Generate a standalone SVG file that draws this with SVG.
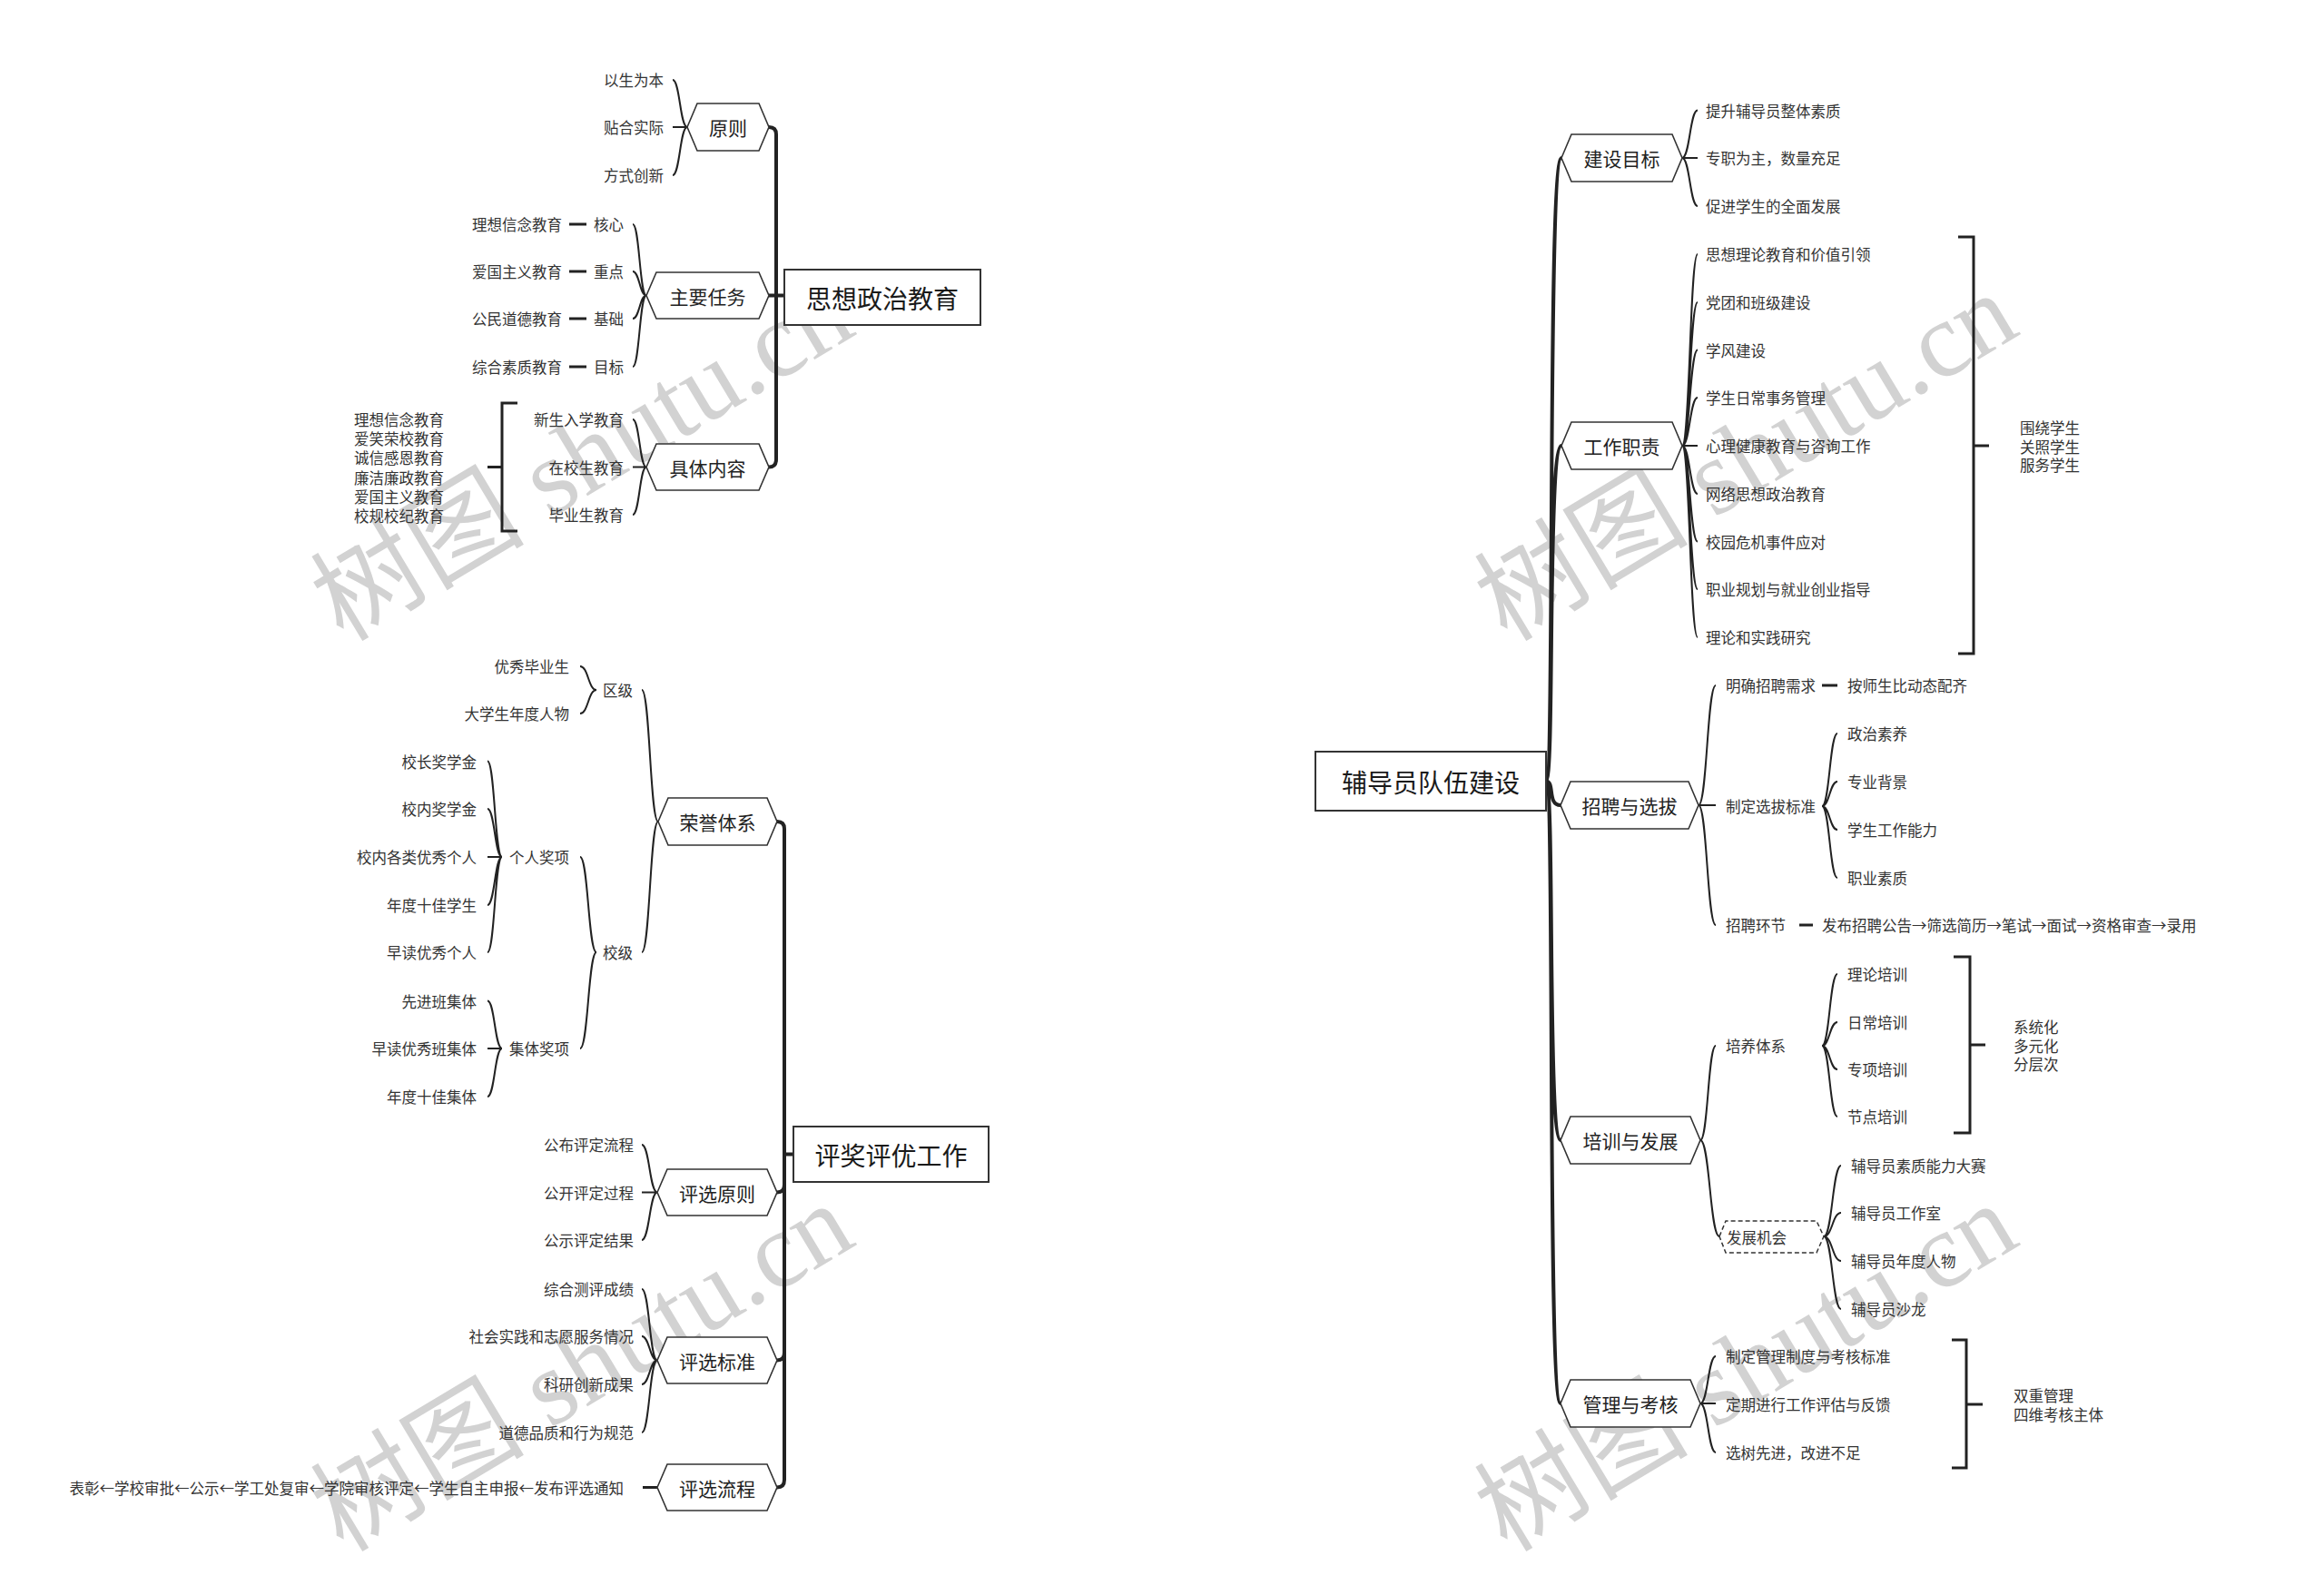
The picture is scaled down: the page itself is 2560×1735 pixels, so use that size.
<svg xmlns="http://www.w3.org/2000/svg" width="2560" height="1735" viewBox="0 0 2560 1735">
<style>
.t{font-family:"Noto Sans CJK SC","Liberation Sans",sans-serif;font-size:16.5px;fill:#333;dominant-baseline:central}
.e{text-anchor:end}
.h{font-size:21px;text-anchor:middle;fill:#222}
.r{font-size:28px;text-anchor:middle;fill:#1a1a1a}
.hex{fill:#fff;stroke:#333;stroke-width:1.6}
.dhex{fill:#fff;stroke:#333;stroke-width:1.5;stroke-dasharray:5 3}
.box{fill:#fff;stroke:#333;stroke-width:2}
.c{fill:none;stroke:#222;stroke-width:2}
.k{fill:none;stroke:#222;stroke-width:4;stroke-linecap:round}
.b{fill:none;stroke:#222;stroke-width:3}
.wm{font-family:"Liberation Serif","Noto Sans CJK SC",serif;font-size:118px;fill:#d2d2d2}
</style>
<rect width="2560" height="1735" fill="#fff"/>
<g id="watermark">
<text class="wm" x="378" y="708" transform="rotate(-31 378 708)">树图 shutu.cn</text>
<text class="wm" x="1660" y="708" transform="rotate(-31 1660 708)">树图 shutu.cn</text>
<text class="wm" x="378" y="1711" transform="rotate(-31 378 1711)">树图 shutu.cn</text>
<text class="wm" x="1660" y="1711" transform="rotate(-31 1660 1711)">树图 shutu.cn</text>
</g>
<g id="connectors">
<path class="k" d="M847 140 Q855 140 855 148 L855 506 Q855 514.5 847 514.5 M847 325.5 L864 325.5"/>
<path class="c" d="M757 140 C749 140 749 88 741 88 M757 140 L741 140 M757 140 C749 140 749 193 741 193"/>
<path class="c" d="M712 325.5 C704.5 325.5 704.5 247 697 247 M712 325.5 C704.5 325.5 704.5 299 697 299 M712 325.5 C704.5 325.5 704.5 351 697 351 M712 325.5 C704.5 325.5 704.5 404 697 404"/>
<path class="b" d="M627 247 L646 247 M627 299 L646 299 M627 351 L646 351 M627 404 L646 404"/>
<path class="c" d="M712 514.5 C704.5 514.5 704.5 462 697 462 M712 514.5 L697 514.5 M712 514.5 C704.5 514.5 704.5 567 697 567"/>
<path class="b" d="M570 444 L553 444 L553 585 L570 585 M537 514.5 L553 514.5"/>
<path class="k" d="M856 905 Q864 905 864 913 L864 1630 Q864 1638.5 856 1638.5 M856 1313.5 Q864 1313.5 864 1305 M856 1498.5 Q864 1498.5 864 1490 M864 1271.5 L874 1271.5"/>
<path class="c" d="M725 905 C716 905 716 760 707 760 M725 905 C716 905 716 1049 707 1049"/>
<path class="c" d="M657 760 C648 760 648 734 639 734 M657 760 C648 760 648 786 639 786"/>
<path class="c" d="M657 1049 C648 1049 648 944 639 944 M657 1049 C648 1049 648 1155 639 1155"/>
<path class="c" d="M553 944 C545 944 545 838.5 537 838.5 M553 944 C545 944 545 891 537 891 M553 944 L537 944 M553 944 C545 944 545 997 537 997 M553 944 C545 944 545 1049 537 1049"/>
<path class="c" d="M553 1155 C545 1155 545 1102.5 537 1102.5 M553 1155 L537 1155 M553 1155 C545 1155 545 1208 537 1208"/>
<path class="c" d="M724 1313.5 C715.5 1313.5 715.5 1261 707 1261 M724 1313.5 L707 1313.5 M724 1313.5 C715.5 1313.5 715.5 1366 707 1366"/>
<path class="c" d="M724 1498.5 C715.5 1498.5 715.5 1420 707 1420 M724 1498.5 C715.5 1498.5 715.5 1472 707 1472 M724 1498.5 C715.5 1498.5 715.5 1525 707 1525 M724 1498.5 C715.5 1498.5 715.5 1578 707 1578"/>
<path class="b" d="M708 1638.5 L724 1638.5"/>
<path class="k" d="M1703 860.5 C1713 860.5 1704 174 1720 174 M1703 860.5 C1713 860.5 1704 491 1720 491 M1703 860.5 C1713 860.5 1704 887 1719 887 M1703 860.5 C1713 860.5 1704 1256 1719 1256 M1703 860.5 C1713 860.5 1704 1546 1719 1546"/>
<path class="c" d="M1853 174 C1861.5 174 1861.5 121.5 1870 121.5 M1853 174 L1870 174 M1853 174 C1861.5 174 1861.5 227 1870 227"/>
<path class="c" d="M1853 491 C1861.5 491 1861.5 280 1870 280 M1853 491 C1861.5 491 1861.5 333 1870 333 M1853 491 C1861.5 491 1861.5 385.5 1870 385.5 M1853 491 C1861.5 491 1861.5 438 1870 438 M1853 491 L1870 491 M1853 491 C1861.5 491 1861.5 544 1870 544 M1853 491 C1861.5 491 1861.5 596.5 1870 596.5 M1853 491 C1861.5 491 1861.5 649 1870 649 M1853 491 C1861.5 491 1861.5 702 1870 702"/>
<path class="b" d="M2157 261 L2174 261 L2174 720 L2157 720 M2174 491 L2191 491"/>
<path class="c" d="M1871 887 C1880.5 887 1880.5 755 1890 755 M1871 887 L1890 887 M1871 887 C1880.5 887 1880.5 1019 1890 1019"/>
<path class="b" d="M2007 755 L2024 755 M1982 1019 L1997 1019"/>
<path class="c" d="M2007 888 C2015.5 888 2015.5 808 2024 808 M2007 888 C2015.5 888 2015.5 861 2024 861 M2007 888 C2015.5 888 2015.5 914 2024 914 M2007 888 C2015.5 888 2015.5 967 2024 967"/>
<path class="c" d="M1873 1256 C1881.5 1256 1881.5 1152 1890 1152 M1873 1256 C1883.5 1256 1883.5 1362 1894 1362"/>
<path class="c" d="M2007 1152 C2015.5 1152 2015.5 1073 2024 1073 M2007 1152 C2015.5 1152 2015.5 1126 2024 1126 M2007 1152 C2015.5 1152 2015.5 1178 2024 1178 M2007 1152 C2015.5 1152 2015.5 1230 2024 1230"/>
<path class="b" d="M2152 1054 L2170 1054 L2170 1248 L2152 1248 M2170 1151 L2187 1151"/>
<path class="c" d="M2009 1362 C2018.5 1362 2018.5 1284 2028 1284 M2009 1362 C2018.5 1362 2018.5 1336 2028 1336 M2009 1362 C2018.5 1362 2018.5 1389 2028 1389 M2009 1362 C2018.5 1362 2018.5 1442 2028 1442"/>
<path class="c" d="M1873 1546 C1881.5 1546 1881.5 1494 1890 1494 M1873 1546 L1890 1546 M1873 1546 C1881.5 1546 1881.5 1600 1890 1600"/>
<path class="b" d="M2150 1476 L2166 1476 L2166 1617 L2150 1617 M2166 1547 L2184 1547"/>
</g>

<g id="n-sxzz"><rect class="box" x="864" y="297" width="216" height="61"/><text class="t r" x="972" y="327.5">思想政治教育</text></g>
<g id="n-yuanze"><polygon class="hex" points="757,140 768,114 836,114 847,140 836,166 768,166"/><text class="t h" x="802" y="140">原则</text></g>
<g id="n-yszb"><text class="t e" x="731" y="88">以生为本</text></g>
<g id="n-thsj"><text class="t e" x="731" y="140">贴合实际</text></g>
<g id="n-fscx"><text class="t e" x="731" y="193">方式创新</text></g>
<g id="n-zyrw"><polygon class="hex" points="712,325.5 723,300 836,300 847,325.5 836,351 723,351"/><text class="t h" x="779.5" y="325.5">主要任务</text></g>
<g id="n-hx"><text class="t e" x="619" y="247">理想信念教育</text><text class="t e" x="687" y="247">核心</text></g>
<g id="n-zd"><text class="t e" x="619" y="299">爱国主义教育</text><text class="t e" x="687" y="299">重点</text></g>
<g id="n-jc"><text class="t e" x="619" y="351">公民道德教育</text><text class="t e" x="687" y="351">基础</text></g>
<g id="n-mb"><text class="t e" x="619" y="404">综合素质教育</text><text class="t e" x="687" y="404">目标</text></g>
<g id="n-jtnr"><polygon class="hex" points="712,514.5 723,489 836,489 847,514.5 836,540 723,540"/><text class="t h" x="779.5" y="514.5">具体内容</text></g>
<g id="n-xsrx"><text class="t e" x="687" y="462">新生入学教育</text></g>
<g id="n-zxs"><text class="t e" x="687" y="514.5">在校生教育</text></g>
<g id="n-bys"><text class="t e" x="687" y="567">毕业生教育</text></g>
<g id="n-jtnr-sum"><text class="t e" x="489" y="462">理想信念教育</text><text class="t e" x="489" y="483.2">爱笑荣校教育</text><text class="t e" x="489" y="504.4">诚信感恩教育</text><text class="t e" x="489" y="525.6">廉洁廉政教育</text><text class="t e" x="489" y="546.8">爱国主义教育</text><text class="t e" x="489" y="568">校规校纪教育</text></g>

<g id="n-jpgz"><rect class="box" x="874" y="1241" width="215" height="61"/><text class="t r" x="981.5" y="1271.5">评奖评优工作</text></g>
<g id="n-rytx"><polygon class="hex" points="725,905 736,879 845,879 856,905 845,931 736,931"/><text class="t h" x="790.5" y="905">荣誉体系</text></g>
<g id="n-qj"><text class="t e" x="697" y="760">区级</text></g>
<g id="n-yxbys"><text class="t e" x="627" y="734">优秀毕业生</text></g>
<g id="n-dxsnd"><text class="t e" x="627" y="786">大学生年度人物</text></g>
<g id="n-xj"><text class="t e" x="697" y="1049">校级</text></g>
<g id="n-grjx"><text class="t e" x="627" y="944">个人奖项</text></g>
<g id="n-xzjxj"><text class="t e" x="525" y="838.5">校长奖学金</text></g>
<g id="n-xnjxj"><text class="t e" x="525" y="891">校内奖学金</text></g>
<g id="n-xngl"><text class="t e" x="525" y="944">校内各类优秀个人</text></g>
<g id="n-ndsjxs"><text class="t e" x="525" y="997">年度十佳学生</text></g>
<g id="n-zdyxgr"><text class="t e" x="525" y="1049">早读优秀个人</text></g>
<g id="n-jtjx"><text class="t e" x="627" y="1155">集体奖项</text></g>
<g id="n-xjbjt"><text class="t e" x="525" y="1102.5">先进班集体</text></g>
<g id="n-zdyxbjt"><text class="t e" x="525" y="1155">早读优秀班集体</text></g>
<g id="n-ndsjjt"><text class="t e" x="525" y="1208">年度十佳集体</text></g>
<g id="n-pxyz"><polygon class="hex" points="724,1313.5 735,1288 845,1288 856,1313.5 845,1339 735,1339"/><text class="t h" x="790" y="1313.5">评选原则</text></g>
<g id="n-gbpd"><text class="t e" x="698" y="1261">公布评定流程</text></g>
<g id="n-gkpd"><text class="t e" x="698" y="1313.5">公开评定过程</text></g>
<g id="n-gspd"><text class="t e" x="698" y="1366">公示评定结果</text></g>
<g id="n-pxbz"><polygon class="hex" points="724,1498.5 735,1473 845,1473 856,1498.5 845,1524 735,1524"/><text class="t h" x="790" y="1498.5">评选标准</text></g>
<g id="n-zhcp"><text class="t e" x="698" y="1420">综合测评成绩</text></g>
<g id="n-shsj"><text class="t e" x="698" y="1472">社会实践和志愿服务情况</text></g>
<g id="n-kycx"><text class="t e" x="698" y="1525">科研创新成果</text></g>
<g id="n-ddpz"><text class="t e" x="698" y="1578">道德品质和行为规范</text></g>
<g id="n-pxlc"><polygon class="hex" points="724,1638.5 735,1613 845,1613 856,1638.5 845,1664 735,1664"/><text class="t h" x="790" y="1638.5">评选流程</text></g>
<g id="n-pxlc-t"><text class="t e" x="687" y="1638.5">表彰←学校审批←公示←学工处复审←学院审核评定←学生自主申报←发布评选通知</text></g>

<g id="n-root"><rect class="box" x="1449" y="828" width="254" height="65"/><text class="t r" x="1576" y="861">辅导员队伍建设</text></g>
<g id="n-jsmb"><polygon class="hex" points="1720,174 1731,148 1842,148 1853,174 1842,200 1731,200"/><text class="t h" x="1786.5" y="174">建设目标</text></g>
<g id="n-js1"><text class="t" x="1879" y="121.5">提升辅导员整体素质</text></g>
<g id="n-js2"><text class="t" x="1879" y="174">专职为主，数量充足</text></g>
<g id="n-js3"><text class="t" x="1879" y="227">促进学生的全面发展</text></g>
<g id="n-gzzz"><polygon class="hex" points="1720,491 1731,465 1842,465 1853,491 1842,517 1731,517"/><text class="t h" x="1786.5" y="491">工作职责</text></g>
<g id="n-gz1"><text class="t" x="1879" y="280">思想理论教育和价值引领</text></g>
<g id="n-gz2"><text class="t" x="1879" y="333">党团和班级建设</text></g>
<g id="n-gz3"><text class="t" x="1879" y="385.5">学风建设</text></g>
<g id="n-gz4"><text class="t" x="1879" y="438">学生日常事务管理</text></g>
<g id="n-gz5"><text class="t" x="1879" y="491">心理健康教育与咨询工作</text></g>
<g id="n-gz6"><text class="t" x="1879" y="544">网络思想政治教育</text></g>
<g id="n-gz7"><text class="t" x="1879" y="596.5">校园危机事件应对</text></g>
<g id="n-gz8"><text class="t" x="1879" y="649">职业规划与就业创业指导</text></g>
<g id="n-gz9"><text class="t" x="1879" y="702">理论和实践研究</text></g>
<g id="n-gz-sum"><text class="t" x="2225" y="471">围绕学生</text><text class="t" x="2225" y="491.5">关照学生</text><text class="t" x="2225" y="512">服务学生</text></g>
<g id="n-zpxb"><polygon class="hex" points="1719,887 1730,861 1860,861 1871,887 1860,913 1730,913"/><text class="t h" x="1795" y="887">招聘与选拔</text></g>
<g id="n-mqzp"><text class="t" x="1901" y="755">明确招聘需求</text><text class="t" x="2035" y="755">按师生比动态配齐</text></g>
<g id="n-zdxb"><text class="t" x="1901" y="888">制定选拔标准</text></g>
<g id="n-zzsy"><text class="t" x="2035" y="808">政治素养</text></g>
<g id="n-zybj"><text class="t" x="2035" y="861">专业背景</text></g>
<g id="n-xsgz"><text class="t" x="2035" y="914">学生工作能力</text></g>
<g id="n-zysz"><text class="t" x="2035" y="967">职业素质</text></g>
<g id="n-zphj"><text class="t" x="1901" y="1019">招聘环节</text><text class="t" x="2007" y="1019">发布招聘公告→筛选简历→笔试→面试→资格审查→录用</text></g>
<g id="n-pxfz"><polygon class="hex" points="1719,1256 1730,1230 1862,1230 1873,1256 1862,1282 1730,1282"/><text class="t h" x="1796" y="1256">培训与发展</text></g>
<g id="n-pytx"><text class="t" x="1901" y="1152">培养体系</text></g>
<g id="n-llpx"><text class="t" x="2035" y="1073">理论培训</text></g>
<g id="n-rcpx"><text class="t" x="2035" y="1126">日常培训</text></g>
<g id="n-zxpx"><text class="t" x="2035" y="1178">专项培训</text></g>
<g id="n-jdpx"><text class="t" x="2035" y="1230">节点培训</text></g>
<g id="n-py-sum"><text class="t" x="2218" y="1131">系统化</text><text class="t" x="2218" y="1151.5">多元化</text><text class="t" x="2218" y="1172">分层次</text></g>
<g id="n-fzjh"><polygon class="dhex" points="1894,1362 1901,1345 2001,1345 2009,1362 2001,1380 1901,1380"/><text class="t" x="1902" y="1363">发展机会</text></g>
<g id="n-fz1"><text class="t" x="2039" y="1284">辅导员素质能力大赛</text></g>
<g id="n-fz2"><text class="t" x="2039" y="1336">辅导员工作室</text></g>
<g id="n-fz3"><text class="t" x="2039" y="1389">辅导员年度人物</text></g>
<g id="n-fz4"><text class="t" x="2039" y="1442">辅导员沙龙</text></g>
<g id="n-glkh"><polygon class="hex" points="1719,1546 1730,1520 1862,1520 1873,1546 1862,1572 1730,1572"/><text class="t h" x="1796" y="1546">管理与考核</text></g>
<g id="n-gl1"><text class="t" x="1901" y="1494">制定管理制度与考核标准</text></g>
<g id="n-gl2"><text class="t" x="1901" y="1547">定期进行工作评估与反馈</text></g>
<g id="n-gl3"><text class="t" x="1901" y="1600">选树先进，改进不足</text></g>
<g id="n-gl-sum"><text class="t" x="2218" y="1537">双重管理</text><text class="t" x="2218" y="1558">四维考核主体</text></g>
</svg>
